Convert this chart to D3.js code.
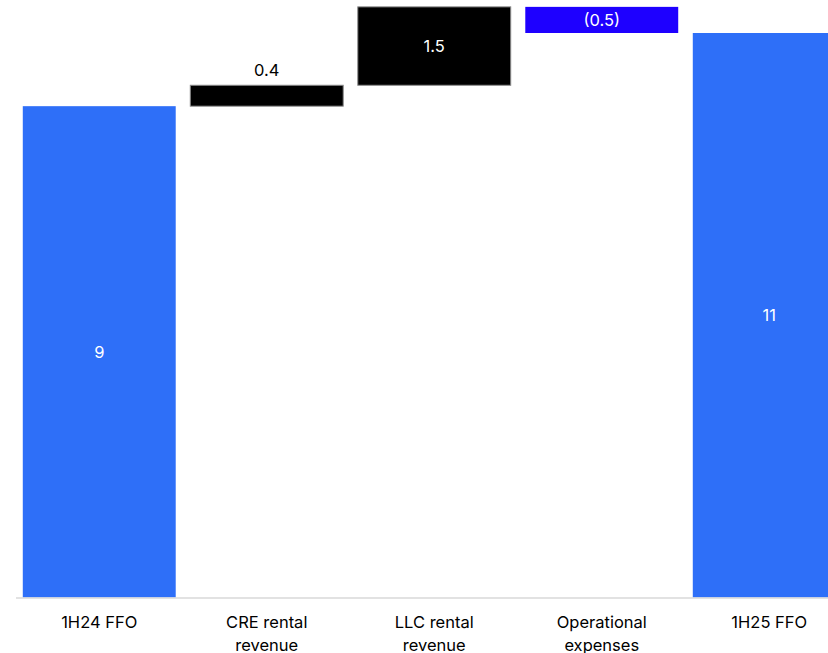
<!DOCTYPE html>
<html>
<head>
<meta charset="utf-8">
<script src="https://cdn.jsdelivr.net/npm/d3@7"></script>
<style>
  html, body { margin: 0; padding: 0; background: #fff; }
  svg { display: block; font-family: "Inter", "Liberation Sans", sans-serif; }
</style>
</head>
<body>
<svg id="chart" width="828" height="653"></svg>
<script>
// FFO bridge, 1H24 -> 1H25
const categories = ["1H24 FFO", "CRE rental revenue", "LLC rental revenue", "Operational expenses", "1H25 FFO"];
const kinds      = ["total", "delta", "delta", "delta", "total"];
const values     = [9.4, 0.4, 1.5, -0.5, 10.8];

const fmtTotal = d3.format(".0f");
const fmtDelta = v => v < 0 ? "(" + d3.format(".1f")(-v) + ")" : d3.format(".1f")(v);

// running start/end for each step
let running = 0;
const steps = categories.map((c, i) => {
  let y0, y1;
  if (kinds[i] === "total") { y0 = 0; y1 = values[i]; running = values[i]; }
  else { y0 = running; y1 = running + values[i]; running = y1; }
  return { cat: c, kind: kinds[i], value: values[i], y0, y1 };
});

const svg = d3.select("#chart");
const baseY = 597.5;

const x = d3.scaleBand().domain(categories).range([15.5, 853]).paddingInner(0.087).paddingOuter(0.0435);
const y = d3.scaleLinear().domain([0, 10.8]).range([baseY, 33]);

const fill = d => d.kind === "total" ? "#2E6FF8" : (d.value >= 0 ? "#000000" : "#1E00FF");

const bars = svg.append("g");
bars.selectAll("rect").data(steps).join("rect")
  .attr("x", d => x(d.cat))
  .attr("width", x.bandwidth())
  .attr("y", d => y(Math.max(d.y0, d.y1)))
  .attr("height", d => Math.abs(y(d.y0) - y(d.y1)))
  .attr("fill", fill)
  .attr("stroke", d => d.kind === "delta" && d.value >= 0 ? "#8a8a8a" : "none")
  .attr("stroke-width", 1);

// value labels
const labels = svg.append("g").attr("font-size", 16.5);
labels.selectAll("text").data(steps).join("text")
  .attr("text-anchor", "middle")
  .attr("x", d => x(d.cat) + x.bandwidth() / 2)
  .attr("y", d => {
    const top = y(Math.max(d.y0, d.y1)), bot = y(Math.min(d.y0, d.y1));
    if (bot - top < 24) {
      return d.value >= 0 ? top - 15 : (top + bot) / 2;
    }
    return (top + bot) / 2;
  })
  .attr("dy", "0.36em")
  .attr("fill", d => {
    const h = Math.abs(y(d.y0) - y(d.y1));
    return (h < 24 && d.value >= 0) ? "#000" : "#fff";
  })
  .text(d => d.kind === "total" ? fmtTotal(d.value) : fmtDelta(d.value));

// category axis
const axis = d3.axisBottom(x).tickSize(0).tickPadding(0);
const gAxis = svg.append("g").attr("transform", `translate(0,${baseY})`).call(axis);
gAxis.select(".domain").attr("stroke", "#d9d9d9").attr("stroke-width", 1.5);
gAxis.selectAll(".tick text")
  .attr("font-family", "Inter, 'Liberation Sans', sans-serif")
  .attr("font-size", 16.5)
  .attr("fill", "#000")
  .each(function(d) {
    const t = d3.select(this);
    const words = d.split(" ");
    const lines = [];
    let cur = "";
    const maxW = 115;
    t.text(null);
    const probe = t.append("tspan");
    words.forEach(w => {
      const trial = cur ? cur + " " + w : w;
      probe.text(trial);
      if (probe.node().getComputedTextLength() > maxW && cur) { lines.push(cur); cur = w; }
      else cur = trial;
    });
    lines.push(cur);
    probe.remove();
    t.attr("y", 0).attr("dy", null);
    lines.forEach((ln, i) => {
      t.append("tspan").attr("x", 0).attr("y", 30 + i * 23).text(ln);
    });
  });
</script>
</body>
</html>
